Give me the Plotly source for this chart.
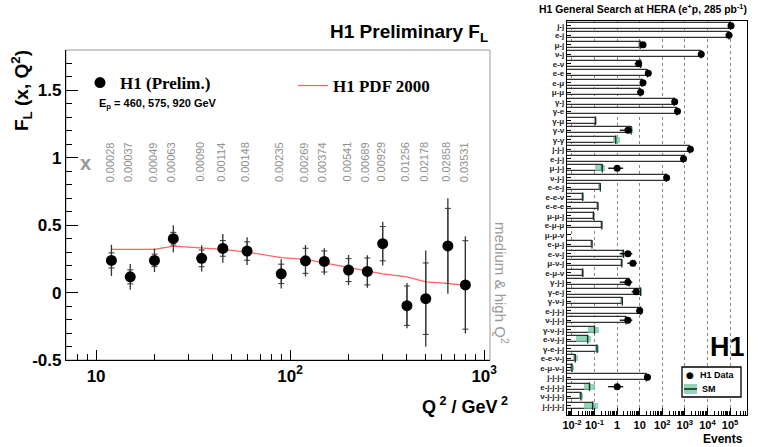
import math
import plotly.graph_objects as go

W, H = 758, 447

# ---------------- Left panel data: H1 preliminary F_L ----------------
q2 = [12, 15, 20, 25, 35, 45, 60, 90, 120, 150, 200, 250, 300, 400, 500, 650, 800]
fl = [0.239, 0.117, 0.239, 0.400, 0.254, 0.328, 0.308, 0.139, 0.236, 0.231,
      0.167, 0.157, 0.363, -0.097, -0.045, 0.346, 0.057]
fl_tot = [0.116, 0.096, 0.087, 0.100, 0.097, 0.106, 0.103, 0.108, 0.117, 0.098,
          0.112, 0.121, 0.162, 0.168, 0.357, 0.354, 0.360]
fl_stat = [0.056, 0.052, 0.046, 0.047, 0.062, 0.058, 0.068, 0.072, 0.093, 0.078,
           0.085, 0.100, 0.127, 0.146, 0.265, 0.279, 0.328]
x_bj = ["0.00028", "0.00037", "0.00049", "0.00063", "0.00090", "0.00114", "0.00148",
        "0.00235", "0.00269", "0.00374", "0.00541", "0.00689", "0.00929", "0.01256",
        "0.02178", "0.02858", "0.03531"]
q2_pdf = [12, 15, 20, 25, 35, 45, 60, 90, 120, 150, 200, 250, 300, 400, 500, 650, 800]
fl_pdf = [0.321, 0.322, 0.321, 0.345, 0.333, 0.321, 0.301, 0.259, 0.246, 0.221,
          0.184, 0.159, 0.139, 0.117, 0.080, 0.068, 0.052]
left_xtick_vals = [10, 100, 1000]
left_xtick_text = ["10", "10<sup>2</sup>", "10<sup>3</sup>"]
left_ytick_vals = [-0.5, 0, 0.5, 1, 1.5]
left_ytick_text = ["-0.5", "0", "0.5", "1", "1.5"]

# ---------------- Right panel data: H1 general search ----------------
channels = ["j-j", "e-j", "μ-j", "ν-j", "e-ν", "e-e", "e-μ", "μ-μ", "γ-j", "γ-e",
            "γ-μ", "γ-ν", "γ-γ", "j-j-j", "e-j-j", "μ-j-j", "ν-j-j", "e-e-j", "e-e-ν",
            "e-e-e", "μ-μ-j", "e-μ-μ", "μ-μ-ν", "e-μ-j", "e-ν-j", "μ-ν-j", "e-μ-ν",
            "γ-j-j", "γ-e-j", "γ-ν-j", "e-j-j-j", "ν-j-j-j", "γ-ν-j-j", "e-ν-j-j",
            "γ-e-j-j", "e-e-ν-j", "e-μ-ν-j", "j-j-j-j", "e-j-j-j-j", "ν-j-j-j-j",
            "j-j-j-j-j"]
sm = [1.05e5, 9.0e4, 10.5, 5200, 11, 22, 12.5, 10.5, 340, 440,
      0.11, 4.2, 0.87, 1600, 860, 0.22, 150, 0.18, 0.03,
      0.14, 0.09, 0.21, 0.004, 0.077, 1.9, 1.6, 0.03,
      3.4, 11, 1.7, 11, 2.5, 0.10, 0.05,
      0.13, 0.014, 0.010, 19.5, 0.06, 0.025, 0.083]
sm_lo = [9.5e4, 8.2e4, 9.5, 4800, 9.8, 20, 11.3, 9.5, 310, 400,
         0.10, 3.3, 0.66, 1450, 790, 0.10, 137, 0.165, 0.027,
         0.125, 0.083, 0.19, 0.003, 0.070, 1.7, 1.45, 0.027,
         3.0, 9.8, 1.5, 10.5, 2.2, 0.05, 0.015,
         0.11, 0.012, 0.008, 17.5, 0.035, 0.020, 0.035]
sm_hi = [1.15e5, 9.8e4, 11.5, 5600, 12.5, 24, 13.7, 11.5, 370, 480,
         0.125, 5.0, 1.3, 1750, 930, 0.30, 163, 0.20, 0.034,
         0.155, 0.10, 0.235, 0.005, 0.085, 2.2, 1.8, 0.034,
         3.9, 12.5, 1.9, 14, 2.9, 0.15, 0.07,
         0.16, 0.018, 0.012, 22, 0.10, 0.030, 0.14]
data = [1.1e5, 9.0e4, 14, 5300, 9, 24, 14, 11, 355, 470,
        None, 3, None, 1750, 870, 1, 155, None, None,
        None, None, None, None, None, 3, 5, None,
        3, 7, None, 10, 3, None, None,
        None, None, None, 22, 1, None, None]
data_err_minus = [330, 300, 3.7, 73, 3, 4.9, 3.7, 3.3, 19, 22,
                  0, 1.7, 0, 42, 29, 0.6, 12, 0, 0,
                  0, 0, 0, 0, 0, 1.7, 2.2, 0,
                  1.7, 2.6, 0, 3.2, 1.7, 0, 0,
                  0, 0, 0, 4.7, 0.6, 0, 0]
data_err_plus = [330, 300, 3.7, 73, 3, 4.9, 3.7, 3.3, 19, 22,
                 0, 1.7, 0, 42, 29, 0.86, 12, 0, 0,
                 0, 0, 0, 0, 0, 1.7, 2.4, 0,
                 1.7, 2.6, 0, 3.2, 1.7, 0, 0,
                 0, 0, 0, 4.7, 0.86, 0, 0]
right_xtick_vals = [1e-2, 1e-1, 1, 10, 1e2, 1e3, 1e4, 1e5]
right_xtick_text = ["10<sup>-2</sup>", "10<sup>-1</sup>", "1", "10", "10<sup>2</sup>",
                    "10<sup>3</sup>", "10<sup>4</sup>", "10<sup>5</sup>"]

rows = list(range(len(channels)))
band_len = [h - l for h, l in zip(sm_hi, sm_lo)]

SANS = "Liberation Sans"
SERIF = "Liberation Serif"
GREEN = "rgba(110,200,160,0.75)"


def px(x):
    return x / W


def py(y):
    return 1 - y / H


fig = go.Figure()

# ---- left panel traces ----
fig.add_trace(go.Scatter(
    x=q2, y=fl, mode="markers", xaxis="x", yaxis="y",
    marker=dict(size=1, color="rgba(0,0,0,0)"),
    error_y=dict(type="data", array=fl_stat, width=3, thickness=1, color="#333"),
    showlegend=False, hoverinfo="skip"))
fig.add_trace(go.Scatter(
    x=q2_pdf, y=fl_pdf, mode="lines", xaxis="x", yaxis="y",
    line=dict(color="#ff6060", width=1.2),
    name="<b>H1 PDF 2000</b>", legend="legend2"))
fig.add_trace(go.Scatter(
    x=q2, y=fl, mode="markers", xaxis="x", yaxis="y",
    marker=dict(size=11, color="black"),
    error_y=dict(type="data", array=fl_tot, width=0, thickness=1.3, color="#333"),
    name="<b>H1 (Prelim.)</b>", legend="legend"))

# ---- right panel traces ----
fig.add_trace(go.Bar(
    y=rows, x=sm, base=1e-4, orientation="h", xaxis="x2", yaxis="y2",
    width=0.62, marker=dict(color="white", line=dict(color="#333", width=1.3)),
    showlegend=False, hoverinfo="skip"))
fig.add_trace(go.Bar(
    y=rows, x=band_len, base=sm_lo, orientation="h", xaxis="x2", yaxis="y2",
    width=0.62, marker=dict(color=GREEN, line=dict(width=0)),
    name="SM", showlegend=False))
fig.add_trace(go.Scatter(
    x=sm, y=rows, mode="markers", xaxis="x2", yaxis="y2",
    marker=dict(symbol="line-ns", size=6, line=dict(width=1.3, color="#222")),
    showlegend=False, hoverinfo="skip"))
fig.add_trace(go.Scatter(
    x=data, y=rows, mode="markers", xaxis="x2", yaxis="y2",
    marker=dict(size=7, color="black"),
    error_x=dict(type="data", symmetric=False, array=data_err_plus,
                 arrayminus=data_err_minus, width=0, thickness=1.3, color="black"),
    name="H1 Data", showlegend=False))

# ---- annotations ----
ann = []
for q, lab in zip(q2, x_bj):
    ann.append(dict(x=math.log10(q), y=0.97, xref="x", yref="y", text=lab,
                    textangle=-90, showarrow=False, xshift=-2,
                    font=dict(family=SANS, size=11, color="#8f8f8f")))
ann += [
    dict(x=px(490), y=py(33), xref="paper", yref="paper", xanchor="right", yanchor="middle",
         text="<b>H1 Preliminary F<sub>L</sub></b>", showarrow=False,
         font=dict(family=SANS, size=19, color="black")),
    dict(x=px(22), y=py(91), xref="paper", yref="paper", xanchor="center", yanchor="middle",
         text="<b>F<sub>L</sub> (x, Q<sup>2</sup>)</b>", textangle=-90, showarrow=False,
         font=dict(family=SANS, size=19, color="black")),
    dict(x=px(97), y=py(104), xref="paper", yref="paper", xanchor="left", yanchor="middle",
         text="<b>E<sub>p</sub> = 460, 575, 920 GeV</b>", showarrow=False,
         font=dict(family=SANS, size=11, color="black")),
    dict(x=px(85), y=py(163), xref="paper", yref="paper", xanchor="center", yanchor="middle",
         text="<b>x</b>", showarrow=False,
         font=dict(family=SANS, size=20, color="#999")),
    dict(x=px(502), y=py(283), xref="paper", yref="paper", xanchor="center", yanchor="middle",
         text="medium &amp; high Q<sup>2</sup>", textangle=90, showarrow=False,
         font=dict(family=SANS, size=15, color="#999")),
    dict(x=px(510), y=py(405), xref="paper", yref="paper", xanchor="right", yanchor="middle",
         text="<b>Q<sup> 2</sup> / GeV<sup> 2</sup></b>", showarrow=False,
         font=dict(family=SANS, size=18, color="black")),
    dict(x=px(537), y=py(9), xref="paper", yref="paper", xanchor="left", yanchor="middle",
         text="<b>H1 General Search at HERA (e<sup>+</sup>p, 285 pb<sup>-1</sup>)</b>",
         showarrow=False, font=dict(family=SANS, size=10.4, color="black")),
    dict(x=px(727), y=py(347), xref="paper", yref="paper", xanchor="center", yanchor="middle",
         text="<b>H1</b>", showarrow=False, font=dict(family=SANS, size=27, color="black")),
    dict(x=px(745), y=py(439), xref="paper", yref="paper", xanchor="right", yanchor="middle",
         text="<b>Events</b>", showarrow=False, font=dict(family=SANS, size=12, color="black")),
    # right-panel legend entries
    dict(x=px(690), y=py(375), xref="paper", yref="paper", xanchor="center", yanchor="middle",
         text="●", showarrow=False, font=dict(family="DejaVu Sans", size=9, color="black")),
    dict(x=px(698), y=py(375), xref="paper", yref="paper", xanchor="left", yanchor="middle",
         text="<b>H1 Data</b>", showarrow=False, font=dict(family=SANS, size=9, color="black")),
    dict(x=px(700), y=py(389), xref="paper", yref="paper", xanchor="left", yanchor="middle",
         text="<b>SM</b>", showarrow=False, font=dict(family=SANS, size=9, color="black")),
]

shapes = [
    dict(type="rect", xref="x domain", yref="y domain", x0=0, x1=1, y0=0, y1=1,
         line=dict(color="#9a9a9a", width=1), layer="below"),
    dict(type="rect", xref="paper", yref="paper", x0=px(682), x1=px(741), y0=py(397), y1=py(367),
         line=dict(color="black", width=1.3), fillcolor="white", layer="above"),
    dict(type="rect", xref="paper", yref="paper", x0=px(684), x1=px(697), y0=py(394), y1=py(384),
         line=dict(width=0), fillcolor=GREEN, layer="above"),
    dict(type="line", xref="paper", yref="paper", x0=px(684), x1=px(697), y0=py(389), y1=py(389),
         line=dict(color="black", width=1.3), layer="above"),
]

fig.update_layout(
    width=W, height=H, margin=dict(l=0, r=0, t=0, b=0, autoexpand=False),
    paper_bgcolor="white", plot_bgcolor="white",
    font=dict(family=SANS, color="black"),
    barmode="overlay", bargap=0,
    annotations=ann, shapes=shapes,
    xaxis=dict(domain=[px(66), px(490)], anchor="y", type="log", range=[0.845, 3.03],
               automargin=False,
               tickmode="array", tickvals=left_xtick_vals, ticktext=left_xtick_text,
               ticks="inside", ticklen=10, tickwidth=1.3, tickcolor="black",
               showline=True, linecolor="black", linewidth=1.3, showgrid=False, zeroline=False,
               tickfont=dict(family=SANS, size=17, weight="bold"),
               minor=dict(ticks="inside", ticklen=6, dtick="D1", tickcolor="black", showgrid=False)),
    yaxis=dict(domain=[py(360), py(50)], anchor="x", range=[-0.5, 1.8],
               automargin=False,
               tickmode="array", tickvals=left_ytick_vals, ticktext=left_ytick_text,
               ticks="inside", ticklen=12, tickwidth=1.3, tickcolor="black",
               showline=True, linecolor="black", linewidth=1.3, showgrid=False, zeroline=False,
               tickfont=dict(family=SANS, size=17, weight="bold"),
               minor=dict(ticks="inside", ticklen=6, dtick=0.1, tickcolor="black", showgrid=False)),
    xaxis2=dict(domain=[px(567), px(747)], anchor="y2", type="log", range=[-2.22, 5.75],
                automargin=False,
                tickmode="array", tickvals=right_xtick_vals, ticktext=right_xtick_text,
                ticks="inside", ticklen=7, tickwidth=1.2, tickcolor="black",
                showline=True, mirror=True, linecolor="black", linewidth=1.3,
                showgrid=True, gridcolor="#888", griddash="dot", gridwidth=1, zeroline=False,
                tickfont=dict(family=SANS, size=11, weight="bold"),
                minor=dict(ticks="inside", ticklen=4, dtick="D1", tickcolor="black", showgrid=False)),
    yaxis2=dict(domain=[py(415), py(21)], anchor="x2", range=[40.98, -0.5],
                automargin=False,
                tickmode="array", tickvals=rows, ticktext=channels,
                ticks="inside", ticklen=4, tickwidth=1, tickcolor="black",
                showline=True, mirror=True, linecolor="black", linewidth=1.3,
                showgrid=False, zeroline=False,
                tickfont=dict(family=SANS, size=8, weight="bold", color="#222")),
    legend=dict(x=px(80), y=py(83), xanchor="left", yanchor="middle",
                bgcolor="rgba(0,0,0,0)", borderwidth=0,
                font=dict(family=SERIF, size=17, color="black")),
    legend2=dict(x=px(293), y=py(86), xanchor="left", yanchor="middle",
                 bgcolor="rgba(0,0,0,0)", borderwidth=0,
                 font=dict(family=SERIF, size=17, color="black")),
)

fig.write_html("out.html")
